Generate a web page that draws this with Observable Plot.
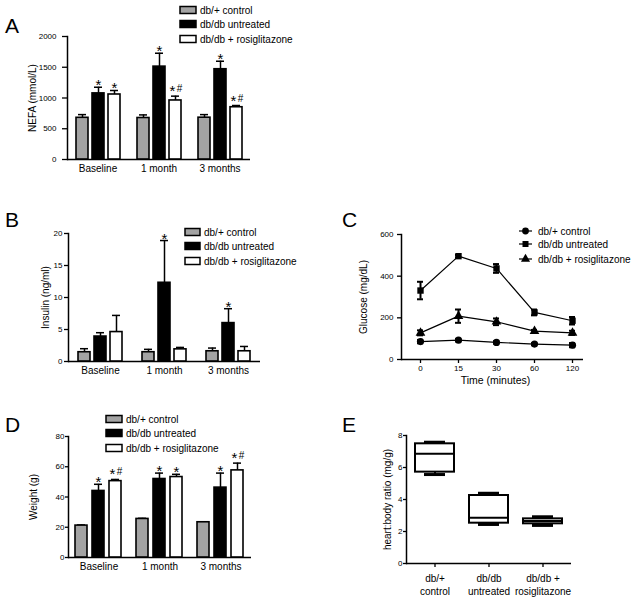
<!DOCTYPE html>
<html><head><meta charset="utf-8">
<script src="https://cdn.jsdelivr.net/npm/d3@7"></script>
<script src="https://cdn.jsdelivr.net/npm/@observablehq/plot@0.6"></script>
<style>
body{margin:0;background:#fff;}
#fig{position:relative;width:638px;height:599px;overflow:hidden;background:#fff;}
</style></head>
<body><div id="fig"></div>
<script>
// ---------- data ----------
const groups = ["Baseline", "1 month", "3 months"];
const series = ["db/+ control", "db/db untreated", "db/db + rosiglitazone"];
const barFills = ["#a3a3a3", "#000000", "#ffffff"];
const noSig = ["", "", ""];

// A: NEFA (mmol/L)
const nefaControl = [678, 675, 680];
const nefaControlSem = [52, 50, 50];
const nefaUntreated = [1075, 1510, 1468];
const nefaUntreatedSem = [100, 218, 130];
const nefaRosi = [1057, 960, 850];
const nefaRosiSem = [65, 70, 28];
const nefaUntreatedSig = ["*", "*", "*"];
const nefaRosiSig = ["*", "*#", "*#"];
const nefaTicks = [0, 500, 1000, 1500, 2000];

// B: Insulin (ng/ml)
const insulinControl = [1.45, 1.45, 1.6];
const insulinControlSem = [0.55, 0.45, 0.5];
const insulinUntreated = [3.9, 12.3, 6.0];
const insulinUntreatedSem = [0.6, 6.6, 2.25];
const insulinRosi = [4.6, 1.9, 1.6];
const insulinRosiSem = [2.6, 0.3, 0.75];
const insulinUntreatedSig = ["", "*", "*"];
const insulinRosiSig = ["", "", ""];
const insulinTicks = [0, 5, 10, 15, 20];

// C: Glucose (mg/dL) vs time
const times = ["0", "15", "30", "60", "120"];
const glucoseControl = [86, 93, 82, 74, 69];
const glucoseControlSem = [8, 6, 6, 5, 10];
const glucoseUntreated = [331, 496, 437, 226, 186];
const glucoseUntreatedSem = [42, 6, 21, 14, 18];
const glucoseRosi = [128, 208, 181, 136, 128];
const glucoseRosiSem = [12, 32, 16, 6, 10];
const glucoseTicks = [0, 200, 400, 600];
const lineSymbols = ["circle", "square", "triangle"];

// D: Weight (g)
const weightControl = [21.1, 25.5, 23.3];
const weightControlSem = [0.4, 0.4, 0.3];
const weightUntreated = [44, 51.9, 46.2];
const weightUntreatedSem = [4.4, 3.9, 9.6];
const weightRosi = [50.5, 53.2, 57.6];
const weightRosiSem = [1.1, 1.8, 4.8];
const weightUntreatedSig = ["*", "*", "*"];
const weightRosiSig = ["*#", "*", "*#"];
const weightTicks = [0, 20, 40, 60, 80];

// E: heart:body ratio (mg/g)
const heartGroups = ["db/+\ncontrol", "db/db\nuntreated", "db/db +\nrosiglitazone"];
const heartMin = [5.56, 2.44, 2.38];
const heartQ1 = [5.71, 2.52, 2.48];
const heartMedian = [6.86, 2.86, 2.65];
const heartQ3 = [7.48, 4.25, 2.79];
const heartMax = [7.58, 4.39, 2.92];
const heartTicks = [0, 2, 4, 6, 8];

// ---------- helpers ----------
const FONT = "'Liberation Sans', Arial, Helvetica, sans-serif";
const fig = document.getElementById("fig");
function place(node, left, top) {
  node.style.position = "absolute";
  node.style.left = left + "px";
  node.style.top = top + "px";
  fig.appendChild(node);
}
function barTable(means, sems, sigs) {
  return series.flatMap((s, si) => groups.map((g, gi) => ({
    series: s, group: g, value: means[si][gi], upper: means[si][gi] + sems[si][gi], sig: sigs[si][gi]
  })));
}
function barPanel(table, o) {
  const starOnly = table.filter(d => d.sig === "*");
  const starHash = table.filter(d => d.sig === "*#");
  return Plot.plot({
    width: o.width, height: o.height,
    marginLeft: o.left, marginRight: o.right, marginTop: o.top, marginBottom: o.bottom,
    style: {fontFamily: FONT, background: "transparent", color: "#000", overflow: "visible"},
    fx: {domain: groups, paddingInner: 0, paddingOuter: 0, label: null},
    x: {domain: series, paddingInner: o.padInner, paddingOuter: o.padOuter, axis: null},
    y: {domain: [0, d3.max(o.ticks)]},
    color: {domain: series, range: barFills},
    marks: [
      Plot.axisY({ticks: o.ticks, tickFormat: "d", tickSize: o.tickSize, tickPadding: o.tickPadding, fontSize: 8, label: null, strokeWidth: 1.3}),
      Plot.axisFx({anchor: "bottom", tickSize: 0, tickPadding: 5, fontSize: 10, label: null}),
      Plot.text([o.label], {frameAnchor: "left", textAnchor: "middle", rotate: -90, dx: o.labelDx, fontSize: 10, facetAnchor: "left"}),
      Plot.frame({anchor: "left", strokeWidth: 1.5, facetAnchor: "left"}),
      Plot.ruleY([0], {strokeWidth: 1.5}),
      Plot.ruleX(table, {fx: "group", x: "series", y1: "value", y2: "upper", strokeWidth: 1.5}),
      Plot.tickY(table, {fx: "group", x: "series", y: "upper", strokeWidth: 1.5, insetLeft: 2, insetRight: 2}),
      Plot.barY(table, {fx: "group", x: "series", y: "value", fill: "series", stroke: "black", strokeWidth: 1.6}),
      Plot.text(starOnly, {fx: "group", x: "series", y: "upper", text: () => "*", fontSize: 15, lineAnchor: "bottom", dy: 3}),
      Plot.text(starHash, {fx: "group", x: "series", y: "upper", text: () => "*", fontSize: 15, lineAnchor: "bottom", dy: 0, dx: -3}),
      Plot.text(starHash, {fx: "group", x: "series", y: "upper", text: () => "#", fontSize: 10, lineAnchor: "bottom", dy: -4, dx: 4, fill: "black"})
    ]
  });
}

// ---------- panel A ----------
const tableA = barTable([nefaControl, nefaUntreated, nefaRosi], [nefaControlSem, nefaUntreatedSem, nefaRosiSem], [noSig, nefaUntreatedSig, nefaRosiSig]);
place(barPanel(tableA, {width: 260, height: 190, left: 67, right: 10, top: 36, bottom: 31,
  padInner: 0.273, padOuter: 0.485, ticks: nefaTicks, tickSize: 5, tickPadding: 6, label: "NEFA (mmol/L)", labelDx: -35}), 0, 0);

// ---------- panel B ----------
const tableB = barTable([insulinControl, insulinUntreated, insulinRosi], [insulinControlSem, insulinUntreatedSem, insulinRosiSem], [noSig, insulinUntreatedSig, insulinRosiSig]);
place(barPanel(tableB, {width: 270, height: 192, left: 68, right: 10, top: 33, bottom: 31,
  padInner: 0.265, padOuter: 0.515, ticks: insulinTicks, tickSize: 4, tickPadding: 2, label: "Insulin (ng/ml)", labelDx: -23}), 0, 200);

// ---------- panel D ----------
const tableD = barTable([weightControl, weightUntreated, weightRosi], [weightControlSem, weightUntreatedSem, weightRosiSem], [noSig, weightUntreatedSig, weightRosiSig]);
place(barPanel(tableD, {width: 262, height: 188, left: 68, right: 11, top: 36, bottom: 31,
  padInner: 0.294, padOuter: 0.44, ticks: weightTicks, tickSize: 3, tickPadding: 1, label: "Weight (g)", labelDx: -35}), 0, 400);

// ---------- panel C ----------
const gMeans = [glucoseControl, glucoseUntreated, glucoseRosi];
const gSems = [glucoseControlSem, glucoseUntreatedSem, glucoseRosiSem];
const tableC = series.flatMap((s, si) => times.map((t, ti) => ({
  series: s, time: t, value: gMeans[si][ti], lower: gMeans[si][ti] - gSems[si][ti], upper: gMeans[si][ti] + gSems[si][ti]
})));
const chartC = Plot.plot({
  width: 280, height: 195, marginLeft: 81, marginRight: 17, marginTop: 34, marginBottom: 36,
  style: {fontFamily: FONT, background: "transparent", color: "#000", overflow: "visible"},
  x: {type: "band", domain: times, paddingInner: 0.843, paddingOuter: 0.3, align: 0.652},
  y: {domain: [0, d3.max(glucoseTicks)]},
  symbol: {domain: series, range: lineSymbols},
  marks: [
    Plot.axisY({ticks: glucoseTicks, tickSize: 4, tickPadding: 4, fontSize: 8, label: null, strokeWidth: 1.3}),
    Plot.axisX({tickSize: 4, tickPadding: 2, fontSize: 8, label: null, strokeWidth: 1.3}),
    Plot.text(["Glucose (mg/dL)"], {frameAnchor: "left", textAnchor: "middle", rotate: -90, dx: -38, fontSize: 10}),
    Plot.text(["Time (minutes)"], {frameAnchor: "bottom", dy: 24, dx: 3, fontSize: 10.5}),
    Plot.frame({anchor: "left", strokeWidth: 1.5}),
    Plot.ruleY([0], {strokeWidth: 1.5}),
    Plot.line(tableC, {x: "time", y: "value", z: "series", stroke: "black", strokeWidth: 1.2}),
    Plot.ruleX(tableC, {x: "time", y1: "lower", y2: "upper", strokeWidth: 2}),
    Plot.tickY(tableC, {x: "time", y: "upper", strokeWidth: 2}),
    Plot.tickY(tableC, {x: "time", y: "lower", strokeWidth: 2}),
    Plot.dot(tableC, {x: "time", y: "value", symbol: "series", fill: "black", stroke: "none", r: 3.6})
  ]
});
place(chartC, 320, 200);

// ---------- panel E ----------
const tableE = heartGroups.map((g, i) => ({
  cat: g, min: heartMin[i], q1: heartQ1[i], median: heartMedian[i], q3: heartQ3[i], max: heartMax[i]
}));
const chartE = Plot.plot({
  width: 260, height: 199, marginLeft: 86, marginRight: 9, marginTop: 35, marginBottom: 36,
  style: {fontFamily: FONT, background: "transparent", color: "#000", overflow: "visible"},
  x: {domain: heartGroups, paddingInner: 0.284, paddingOuter: 0.156},
  y: {domain: [0, d3.max(heartTicks)]},
  marks: [
    Plot.axisY({ticks: heartTicks, tickSize: 3, tickPadding: 1, fontSize: 8, label: null, strokeWidth: 1.3}),
    Plot.axisX({tickSize: 4, tickPadding: 5, fontSize: 10, lineHeight: 1.3, label: null, strokeWidth: 1.3}),
    Plot.text(["heart:body ratio (mg/g)"], {frameAnchor: "left", textAnchor: "middle", rotate: -90, dx: -19, fontSize: 10}),
    Plot.frame({anchor: "left", strokeWidth: 1.5}),
    Plot.ruleY([0], {strokeWidth: 1.5}),
    Plot.ruleX(tableE, {x: "cat", y1: "min", y2: "q1", strokeWidth: 2}),
    Plot.ruleX(tableE, {x: "cat", y1: "q3", y2: "max", strokeWidth: 2}),
    Plot.tickY(tableE, {x: "cat", y: "min", strokeWidth: 3, insetLeft: 9, insetRight: 9}),
    Plot.tickY(tableE, {x: "cat", y: "max", strokeWidth: 3, insetLeft: 9, insetRight: 9}),
    Plot.barY(tableE, {x: "cat", y1: "q1", y2: "q3", fill: "white", stroke: "black", strokeWidth: 2}),
    Plot.tickY(tableE, {x: "cat", y: "median", strokeWidth: 2})
  ]
});
place(chartE, 320, 400);

// ---------- overlay: panel letters and legends ----------
const ov = d3.create("svg").attr("width", 638).attr("height", 599)
  .style("font-family", FONT).style("pointer-events", "none");
const letters = [["A", 5, 33], ["B", 5, 227], ["C", 342, 227], ["D", 5, 432], ["E", 342, 432]];
letters.forEach(([t, x, y]) => ov.append("text").attr("x", x).attr("y", y).attr("font-size", 21).text(t));

function barLegend(x, w, ys) {
  series.forEach((s, i) => {
    ov.append("rect").attr("x", x).attr("y", ys[i] - 3.5).attr("width", w).attr("height", 7)
      .attr("fill", barFills[i]).attr("stroke", "black").attr("stroke-width", 1.5);
    ov.append("text").attr("x", x + w + 4).attr("y", ys[i]).attr("dy", "0.35em")
      .attr("font-size", 10).text(s);
  });
}
barLegend(180, 16, [10, 24, 39]);
barLegend(185, 15, [232, 246, 261]);
barLegend(106, 16, [419, 433, 448]);

const symMap = {circle: d3.symbolCircle, square: d3.symbolSquare, triangle: d3.symbolTriangle};
[231, 244, 259].forEach((y, i) => {
  ov.append("line").attr("x1", 519).attr("x2", 532).attr("y1", y).attr("y2", y).attr("stroke", "black").attr("stroke-width", 1.2);
  ov.append("path").attr("transform", `translate(525.5,${y})`).attr("d", d3.symbol(symMap[lineSymbols[i]], 36)()).attr("fill", "black");
  ov.append("text").attr("x", 538).attr("y", y).attr("dy", "0.35em").attr("font-size", 10).text(series[i]);
});
place(ov.node(), 0, 0);
</script>
</body></html>
